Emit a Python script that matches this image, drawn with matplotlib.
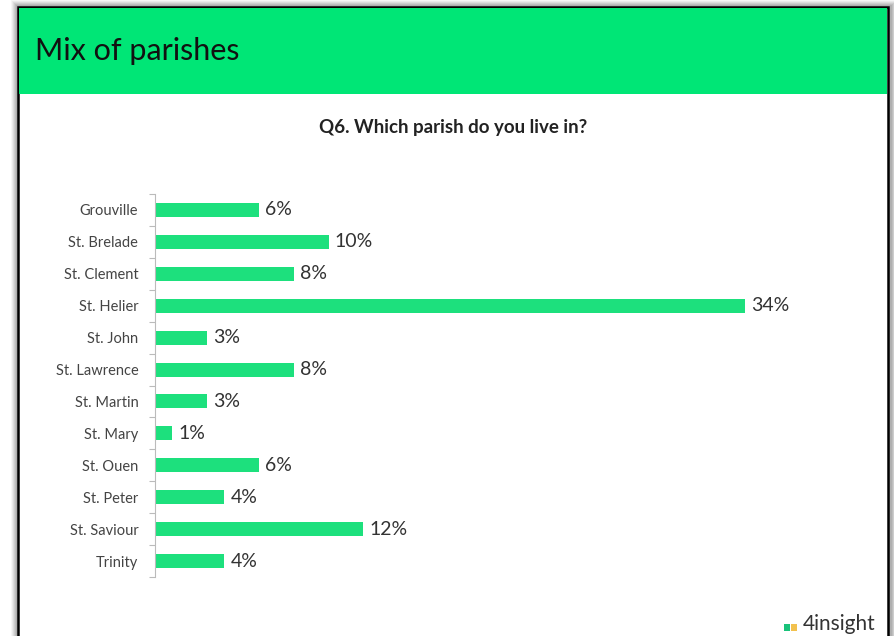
import matplotlib.pyplot as plt
import matplotlib.patches as patches

# survey answers, Q6
parishes = ['Grouville', 'St. Brelade', 'St. Clement', 'St. Helier', 'St. John',
            'St. Lawrence', 'St. Martin', 'St. Mary', 'St. Ouen', 'St. Peter',
            'St. Saviour', 'Trinity']
shares = [6, 10, 8, 34, 3, 8, 3, 1, 6, 4, 12, 4]

GREEN = '#00E676'
BAR = '#1DE07D'
W, H = 895, 636

plt.rcParams['font.family'] = ['Lato', 'DejaVu Sans']
fig = plt.figure(figsize=(W / 100, H / 100), dpi=100)

# slide background in pixel coordinates
bg = fig.add_axes([0, 0, 1, 1])
bg.set_xlim(0, W)
bg.set_ylim(H, 0)
bg.axis('off')

# soft drop shadow around the slide
for i, a in enumerate([0.06, 0.08, 0.10, 0.12, 0.14, 0.16]):
    off = 8 - i
    bg.add_patch(patches.Rectangle((18 - off + 1, 7 - off + 1), 870 + 2 * off, 700,
                                   facecolor='#666666', alpha=a, lw=0))
bg.add_patch(patches.Rectangle((18, 7), 870, 700, facecolor='white',
                               edgecolor='black', lw=1.8))
bg.add_patch(patches.Rectangle((19, 8), 868, 86, facecolor=GREEN, lw=0))
bg.text(35, 51, 'Mix of parishes', fontsize=22, color='#111111', va='center', ha='left')
bg.text(453, 128, 'Q6. Which parish do you live in?', fontsize=13.5, fontweight='bold',
        color='#222222', ha='center', va='center')

# logo in the footer
bg.add_patch(patches.Rectangle((784, 624), 6, 7, facecolor='#19C27A', lw=0))
bg.add_patch(patches.Rectangle((791, 624), 6, 7, facecolor='#F2C14E', lw=0))
bg.text(803, 634, '4insight', fontsize=15, color='#333333', ha='left', va='bottom')

# bar chart area
x0, x1 = 155, 800
y_top, y_bot = 194, 577
ax = fig.add_axes([x0 / W, 1 - y_bot / H, (x1 - x0) / W, (y_bot - y_top) / H])
px_per_pct = 17.35
ax.set_xlim(0, (x1 - x0) / px_per_pct)
n = len(parishes)
ax.set_ylim(n - 0.5, -0.5)
ax.barh(range(n), shares, height=0.44, color=BAR)
for i, v in enumerate(shares):
    ax.text(v + 0.35, i, f'{v}%', va='center', ha='left', fontsize=14, color='#333333')

ax.set_yticks(range(n))
ax.set_yticklabels(parishes, fontsize=10.5, color='#444444')
ax.set_yticks([i - 0.5 for i in range(n + 1)], minor=True)
ax.tick_params(axis='y', which='major', length=0, pad=12)
ax.tick_params(axis='y', which='minor', length=4, color='#BBBBBB', width=0.8)
ax.set_xticks([])
for s in ['top', 'right', 'bottom']:
    ax.spines[s].set_visible(False)
ax.spines['left'].set_color('#BBBBBB')
ax.spines['left'].set_linewidth(0.8)
ax.patch.set_alpha(0)

fig.savefig('out.png', dpi=100)
